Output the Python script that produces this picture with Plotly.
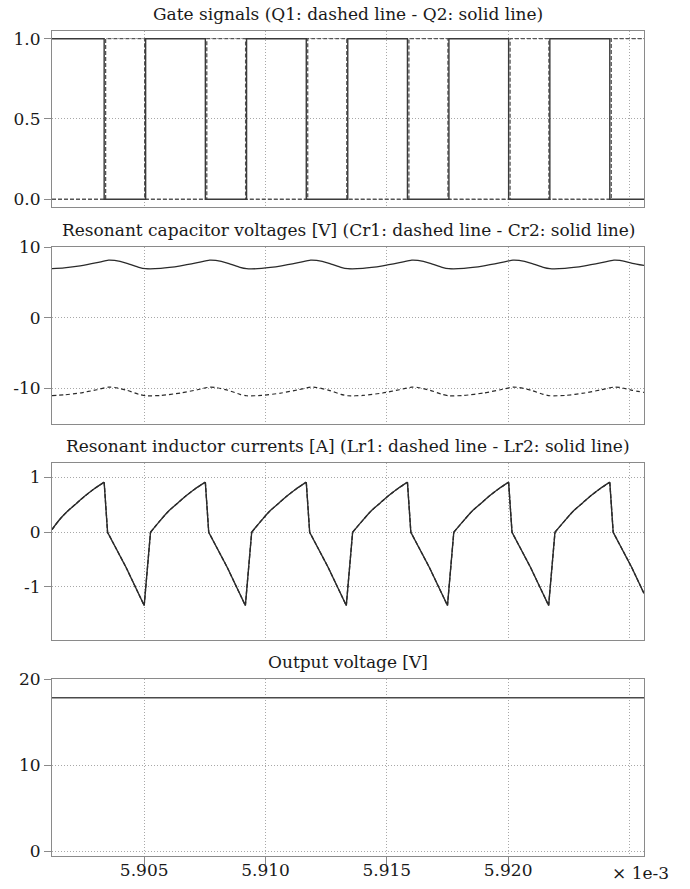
import plotly.graph_objects as go
from plotly.subplots import make_subplots

# Time window (units of 1e-3 s)
T_START = 5.9012
T_END = 5.9256

# Gate switching instants (x 1e-3 s)
q2_fall = [5.90335, 5.90752, 5.91168, 5.91585, 5.92002, 5.92419]
q2_rise = [5.90506, 5.90922, 5.91339, 5.91756, 5.92172]
q1_rise = [5.90341, 5.90758, 5.91174, 5.91591, 5.92008, 5.92425]
q1_fall = [5.90502, 5.90918, 5.91335, 5.91752, 5.92168]

# Resonant capacitor voltages [V]
cr_t = [5.90120, 5.90170, 5.90236, 5.90305, 5.90353, 5.90378, 5.90429, 5.90478,
        5.90506, 5.90568, 5.90650, 5.90719, 5.90770, 5.90795, 5.90846, 5.90895,
        5.90922, 5.90984, 5.91066, 5.91135, 5.91186, 5.91211, 5.91262, 5.91311,
        5.91339, 5.91401, 5.91483, 5.91552, 5.91603, 5.91628, 5.91679, 5.91728,
        5.91756, 5.91818, 5.91900, 5.91969, 5.92020, 5.92045, 5.92096, 5.92145,
        5.92172, 5.92234, 5.92316, 5.92385, 5.92436, 5.92461, 5.92512, 5.92560]
cr2_v = [6.95, 7.05, 7.32, 7.78, 8.15, 8.10, 7.70, 7.12,
         6.93, 6.97, 7.32, 7.78, 8.15, 8.10, 7.70, 7.12,
         6.93, 6.97, 7.32, 7.78, 8.15, 8.10, 7.70, 7.12,
         6.93, 6.97, 7.32, 7.78, 8.15, 8.10, 7.70, 7.12,
         6.93, 6.97, 7.32, 7.78, 8.15, 8.10, 7.70, 7.12,
         6.93, 6.97, 7.32, 7.78, 8.15, 8.10, 7.70, 7.40]
cr1_v = [-11.05, -10.95, -10.68, -10.22, -9.85, -9.90, -10.30, -10.88,
         -11.07, -11.03, -10.68, -10.22, -9.85, -9.90, -10.30, -10.88,
         -11.07, -11.03, -10.68, -10.22, -9.85, -9.90, -10.30, -10.88,
         -11.07, -11.03, -10.68, -10.22, -9.85, -9.90, -10.30, -10.88,
         -11.07, -11.03, -10.68, -10.22, -9.85, -9.90, -10.30, -10.88,
         -11.07, -11.03, -10.68, -10.22, -9.85, -9.90, -10.30, -10.60]

# Resonant inductor currents [A]
lr_t = [5.90120, 5.90155, 5.90188, 5.90224, 5.90258, 5.90293, 5.90335, 5.90349, 5.90425, 5.90500,
        5.90526, 5.90571, 5.90604, 5.90640, 5.90674, 5.90709, 5.90752, 5.90766, 5.90842, 5.90917,
        5.90943, 5.90988, 5.91021, 5.91057, 5.91091, 5.91126, 5.91168, 5.91182, 5.91258, 5.91333,
        5.91359, 5.91405, 5.91438, 5.91474, 5.91508, 5.91543, 5.91585, 5.91599, 5.91675, 5.91750,
        5.91776, 5.91822, 5.91855, 5.91891, 5.91925, 5.91960, 5.92002, 5.92016, 5.92092, 5.92167,
        5.92193, 5.92239, 5.92272, 5.92308, 5.92342, 5.92377, 5.92419, 5.92433, 5.92509, 5.92560]
lr_v = [0.05, 0.25, 0.40, 0.54, 0.67, 0.79, 0.915, 0.0, -0.64, -1.34,
        0.0, 0.24, 0.40, 0.54, 0.67, 0.79, 0.915, 0.0, -0.64, -1.34,
        0.0, 0.24, 0.40, 0.54, 0.67, 0.79, 0.915, 0.0, -0.64, -1.34,
        0.0, 0.24, 0.40, 0.54, 0.67, 0.79, 0.915, 0.0, -0.64, -1.34,
        0.0, 0.24, 0.40, 0.54, 0.67, 0.79, 0.915, 0.0, -0.64, -1.34,
        0.0, 0.24, 0.40, 0.54, 0.67, 0.79, 0.915, 0.0, -0.64, -1.12]
LR_POINTS_PER_PERIOD = 10   # 6 points on the rising arc, 4 on the commutation/ramp

# Output voltage [V]
vo_t = [T_START, T_END]
vo_v = [17.85, 17.85]

titles = [
    "Gate signals (Q1: dashed line - Q2: solid line)",
    "Resonant capacitor voltages [V] (Cr1: dashed line - Cr2: solid line)",
    "Resonant inductor currents [A] (Lr1: dashed line - Lr2: solid line)",
    "Output voltage [V]",
]

x_ticks = [5.905, 5.910, 5.915, 5.920]
x_ticktext = ["5.905", "5.910", "5.915", "5.920"]

y_ticks = [[0.0, 0.5, 1.0], [-10, 0, 10], [-1, 0, 1], [0, 10, 20]]
y_ticktext = [["0.0", "0.5", "1.0"], ["-10", "0", "10"], ["-1", "0", "1"], ["0", "10", "20"]]
y_ranges = [[-0.05, 1.048], [-15.08, 10.01], [-1.97, 1.26], [-0.58, 20.0]]
y_domains = [[0.7863, 1.0], [0.5236, 0.7382], [0.2618, 0.4760], [0.0, 0.2142]]


def step_wave(start_level, up_edges, down_edges):
    events = sorted([(t, 1.0) for t in up_edges] + [(t, 0.0) for t in down_edges])
    xs, ys = [T_START], [start_level]
    for t, lvl in events:
        xs.append(t)
        ys.append(lvl)
    xs.append(T_END)
    ys.append(ys[-1])
    return xs, ys


def split_current(ts, vs, n):
    """Rising arcs (smooth) and commutation ramps (straight), gap-separated."""
    arc_x, arc_y, ramp_x, ramp_y = [], [], [], []
    for k in range(0, len(ts), n):
        arc_x += ts[k:k + 7] + [None]
        arc_y += vs[k:k + 7] + [None]
        end = min(k + n + 1, len(ts))
        ramp_x += ts[k + 6:end] + [None]
        ramp_y += vs[k + 6:end] + [None]
    return arc_x, arc_y, ramp_x, ramp_y


FONT = "DejaVu Serif"
TICK_SIZE = 17
TITLE_SIZE = 17
TXT = "#1a1a1a"
LINE = "#2a2a2a"
GRID = "#a8a8a8"
FRAME = "#8a8a8a"

fig = make_subplots(rows=4, cols=1, shared_xaxes=True)

q2_x, q2_y = step_wave(1.0, q2_rise, q2_fall)
q1_x, q1_y = step_wave(0.0, q1_rise, q1_fall)
fig.add_trace(go.Scatter(x=q1_x, y=q1_y, mode="lines", line_shape="hv",
                         line=dict(color="#555555", width=1.3, dash="4px,2px")), row=1, col=1)
fig.add_trace(go.Scatter(x=q2_x, y=q2_y, mode="lines", line_shape="hv",
                         line=dict(color="#3a3a3a", width=1.4)), row=1, col=1)

fig.add_trace(go.Scatter(x=cr_t, y=cr1_v, mode="lines", line_shape="spline",
                         line=dict(color=LINE, width=1.2, dash="4px,3px", smoothing=0.6)), row=2, col=1)
fig.add_trace(go.Scatter(x=cr_t, y=cr2_v, mode="lines", line_shape="spline",
                         line=dict(color=LINE, width=1.3, smoothing=0.6)), row=2, col=1)

ax, ay, rx, ry = split_current(lr_t, lr_v, LR_POINTS_PER_PERIOD)
for dash, width in (("4px,2px", 1.3), ("solid", 1.4)):
    fig.add_trace(go.Scatter(x=ax, y=ay, mode="lines", line_shape="spline", connectgaps=False,
                             line=dict(color=LINE, width=width, dash=dash, smoothing=1.0)), row=3, col=1)
    fig.add_trace(go.Scatter(x=rx, y=ry, mode="lines", connectgaps=False,
                             line=dict(color=LINE, width=width, dash=dash)), row=3, col=1)

fig.add_trace(go.Scatter(x=vo_t, y=vo_v, mode="lines",
                         line=dict(color="#4a4a4a", width=1.6)), row=4, col=1)

for i in range(4):
    n = "" if i == 0 else str(i + 1)
    last = i == 3
    fig.layout["xaxis" + n].update(
        range=[T_START, T_END], domain=[0, 1], automargin=False,
        tickmode="array", tickvals=x_ticks, ticktext=x_ticktext,
        showticklabels=last, ticks="outside" if last else "",
        ticklen=8, tickwidth=1, tickcolor=FRAME, ticklabelstandoff=-9,
        showgrid=True, gridcolor=GRID, griddash="1px,2px", gridwidth=1,
        minor=dict(tickmode="array", tickvals=[5.925], showgrid=True,
                   gridcolor=GRID, griddash="1px,2px", gridwidth=1, ticks=""),
        showline=True, linecolor=FRAME, linewidth=1, mirror=True,
        zeroline=False, tickfont=dict(family=FONT, size=TICK_SIZE, color=TXT),
    )
    fig.layout["yaxis" + n].update(
        range=y_ranges[i], domain=y_domains[i], automargin=False,
        tickmode="array", tickvals=y_ticks[i], ticktext=y_ticktext[i],
        ticks="outside", ticklen=7, tickwidth=1, tickcolor=FRAME,
        showgrid=True, gridcolor=GRID, griddash="1px,2px", gridwidth=1,
        showline=True, linecolor=FRAME, linewidth=1, mirror=True,
        zeroline=False, tickfont=dict(family=FONT, size=TICK_SIZE, color=TXT),
    )
    fig.add_annotation(
        text=titles[i], xref="paper", yref="paper", x=0.5, y=y_domains[i][1],
        xanchor="center", yanchor="bottom", yshift=5, showarrow=False,
        font=dict(family=FONT, size=TITLE_SIZE, color=TXT),
    )

fig.add_annotation(
    text="\u00d7 1e-3", xref="paper", yref="paper", x=0.9949, y=0,
    xanchor="center", yanchor="top", yshift=-5, showarrow=False,
    font=dict(family=FONT, size=TICK_SIZE, color=TXT),
)

fig.update_layout(
    width=690, height=889,
    margin=dict(l=52, r=46, t=31, b=33, autoexpand=False),
    paper_bgcolor="white", plot_bgcolor="white",
    showlegend=False,
    font=dict(family=FONT, size=TICK_SIZE, color=TXT),
)

fig.write_html("out.html")
